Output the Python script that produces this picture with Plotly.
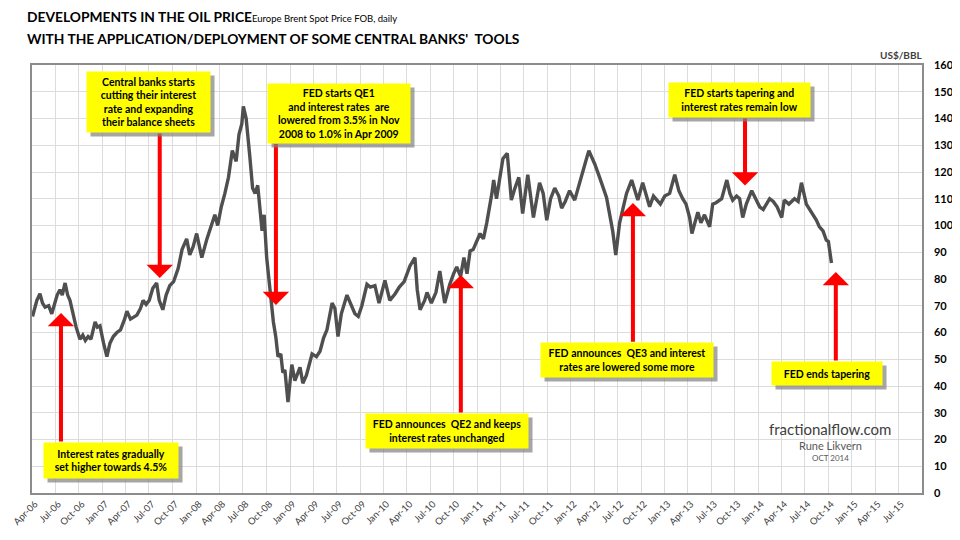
import plotly.graph_objects as go

# Europe Brent spot price FOB (US$/bbl)
dates = [
    '2006-04-03', '2006-04-20', '2006-05-02', '2006-05-12', '2006-05-22', '2006-06-05', '2006-06-17', '2006-06-28',
    '2006-07-08', '2006-07-19', '2006-07-28', '2006-08-08', '2006-08-18', '2006-08-27', '2006-09-08', '2006-09-20',
    '2006-10-05', '2006-10-16', '2006-10-26', '2006-11-06', '2006-11-17', '2006-12-03', '2006-12-12', '2006-12-22',
    '2007-01-05', '2007-01-18', '2007-01-30', '2007-02-12', '2007-02-26', '2007-03-12', '2007-03-28', '2007-04-06',
    '2007-04-20', '2007-05-04', '2007-05-15', '2007-05-29', '2007-06-08', '2007-06-20', '2007-07-02', '2007-07-16',
    '2007-07-31', '2007-08-10', '2007-08-24', '2007-09-06', '2007-09-20', '2007-10-05', '2007-10-23', '2007-11-07',
    '2007-11-25', '2007-12-07', '2007-12-20', '2008-01-03', '2008-01-23', '2008-02-12', '2008-02-28', '2008-03-14',
    '2008-03-25', '2008-04-08', '2008-04-22', '2008-05-06', '2008-05-21', '2008-06-05', '2008-06-16', '2008-06-27',
    '2008-07-03', '2008-07-14', '2008-07-29', '2008-08-08', '2008-08-18', '2008-08-28', '2008-09-14', '2008-09-22',
    '2008-10-02', '2008-10-16', '2008-10-28', '2008-11-07', '2008-11-15', '2008-11-26', '2008-12-04', '2008-12-12',
    '2008-12-24', '2009-01-08', '2009-01-20', '2009-02-09', '2009-02-20', '2009-03-06', '2009-03-28', '2009-04-14',
    '2009-04-28', '2009-05-12', '2009-05-25', '2009-06-14', '2009-06-25', '2009-07-07', '2009-07-20', '2009-08-11',
    '2009-08-25', '2009-09-11', '2009-09-24', '2009-10-08', '2009-10-28', '2009-11-10', '2009-11-28', '2009-12-14',
    '2010-01-06', '2010-01-25', '2010-02-15', '2010-03-03', '2010-03-22', '2010-04-05', '2010-04-14', '2010-05-03',
    '2010-05-12', '2010-05-23', '2010-06-10', '2010-06-19', '2010-07-06', '2010-07-24', '2010-08-08', '2010-08-27',
    '2010-09-16', '2010-10-01', '2010-10-13', '2010-10-28', '2010-11-10', '2010-11-22', '2010-12-04', '2010-12-16',
    '2011-01-12', '2011-01-25', '2011-02-07', '2011-02-27', '2011-03-06', '2011-03-17', '2011-04-11', '2011-04-28',
    '2011-05-14', '2011-05-28', '2011-06-12', '2011-06-27', '2011-07-17', '2011-08-08', '2011-08-20', '2011-09-01',
    '2011-09-15', '2011-09-29', '2011-10-14', '2011-10-30', '2011-11-15', '2011-11-26', '2011-12-10', '2011-12-27',
    '2012-01-16', '2012-02-12', '2012-02-25', '2012-03-11', '2012-04-03', '2012-04-22', '2012-05-08', '2012-05-19',
    '2012-06-12', '2012-06-24', '2012-07-09', '2012-07-20', '2012-08-05', '2012-08-25', '2012-09-05', '2012-09-18',
    '2012-10-07', '2012-10-20', '2012-11-03', '2012-11-18', '2012-11-30', '2012-12-15', '2013-01-01', '2013-01-20',
    '2013-02-09', '2013-02-25', '2013-03-12', '2013-03-25', '2013-04-08', '2013-04-17', '2013-05-10', '2013-05-22',
    '2013-06-05', '2013-06-25', '2013-07-07', '2013-07-20', '2013-08-11', '2013-08-31', '2013-09-12', '2013-09-23',
    '2013-10-08', '2013-10-20', '2013-11-01', '2013-11-15', '2013-12-06', '2013-12-20', '2014-01-06', '2014-01-20',
    '2014-02-14', '2014-02-28', '2014-03-15', '2014-04-02', '2014-04-12', '2014-04-30', '2014-05-22', '2014-06-05',
    '2014-06-18', '2014-07-07', '2014-07-31', '2014-08-15', '2014-08-27', '2014-09-10', '2014-09-23', '2014-10-01',
    '2014-10-13',
]
prices = [
    66, 72, 74.5, 71, 69.5, 70, 67, 71,
    74, 76, 74, 78.5, 74, 72, 67, 62,
    57.5, 59, 57, 58.5, 57.5, 64, 62, 62.5,
    56, 51, 56, 58.5, 60, 61, 65, 68,
    65, 66, 66.5, 69, 72, 70.5, 72, 76.5,
    78.5, 72, 68.5, 74, 77.5, 79, 84, 91,
    95, 89, 92, 97, 88, 95, 100, 104,
    100, 107, 112, 118, 128, 124, 134, 138,
    144.5, 140, 125, 114, 112, 115, 98, 104,
    88, 74, 64, 58, 51, 52, 45, 46,
    34, 48, 42, 47, 41, 44, 52, 51,
    53, 58, 61, 71, 69, 58.5, 67, 74,
    71, 67, 66, 70, 78, 77, 77.5, 71,
    79.5, 72, 74.5, 77, 79, 83, 85, 88,
    76, 68.5, 72, 75, 71, 75, 83, 71,
    78, 82, 84.5, 81, 88, 82, 90.5, 91,
    97, 95, 101, 112, 117, 110, 125, 127,
    109.5, 114, 118, 104.5, 119, 103, 109, 116,
    112, 102, 110, 114, 111, 106.5, 109, 113,
    109.5, 118, 123, 128, 123, 118, 114, 110.5,
    98, 89, 101, 106, 112, 117, 114, 109.5,
    116, 112, 107, 111, 109.5, 108, 111, 112,
    119, 113, 110, 108, 103, 97, 105, 101,
    104, 99.5, 108, 108.5, 110, 117, 112, 109.5,
    111, 110, 103, 108, 113, 110, 107, 106,
    110, 109, 107, 103, 109.5, 108, 110, 109,
    116, 108, 104.5, 102, 99.5, 98, 94.5, 94,
    86,
]

# quarterly x ticks
tick_dates = ['%d-%02d-01' % (y, m) for y in range(2006, 2016) for m in (1, 4, 7, 10)]
tick_dates = [d for d in tick_dates if '2006-04-01' <= d <= '2015-07-01']
month_names = {'01': 'Jan', '04': 'Apr', '07': 'Jul', '10': 'Oct'}
tick_labels = [month_names[d[5:7]] + '-' + d[2:4] for d in tick_dates]

# event boxes: text, box centre (screen px), box size (px)
box_texts = [
    'Central banks starts<br>cutting their interest<br>rate and expanding<br>their balance sheets',
    'FED starts QE1<br>and interest rates  are<br>lowered from 3.5% in Nov<br>2008 to 1.0% in Apr 2009',
    'Interest rates gradually<br>set higher towards 4.5%',
    'FED announces  QE2 and keeps<br>interest rates unchanged',
    'FED starts tapering and<br>interest rates remain low',
    'FED announces  QE3 and interest<br>rates are lowered some more',
    'FED ends tapering',
]
box_centres = [(148, 102), (339, 113), (111, 460), (447, 431), (739, 100), (627, 360), (827, 373)]
box_sizes = [(123, 60), (142, 59), (134, 35), (162, 34), (141, 34), (172, 34), (110, 23)]

# red arrows: head (date, price) and tail price
arrow_dates = ['2006-07-23', '2007-08-12', '2008-11-07', '2010-10-29', '2012-08-30', '2013-11-10', '2014-10-30']
arrow_heads = [67.3, 80.4, 70.3, 81.5, 108.4, 115, 82.6]
arrow_tails = [18.7, 135, 131, 29.5, 56, 140.6, 49]

# plot area in screen pixels; the page body adds an 8px offset
L, T, W, H = 32, 65, 890, 428
OFF = 8
FIG_W, FIG_H = 960 - OFF, 540 - OFF
FONT = 'Lato, Roboto, Liberation Sans'


def px(x):
    return (x - L) / W


def py(y):
    return (T + H - y) / H


def label(x, y, text, size, color, **kw):
    return dict(x=px(x), y=py(y), xref='paper', yref='paper', xanchor='center', yanchor='middle',
                showarrow=False, text=text, font=dict(family=FONT, size=size, color=color), **kw)


fig = go.Figure()
fig.add_trace(go.Scatter(x=dates, y=prices, mode='lines', line=dict(color='#4F4F4F', width=3.4),
                         showlegend=False, hoverinfo='x+y'))

annotations = []
for d, head, tail in zip(arrow_dates, arrow_heads, arrow_tails):
    annotations.append(dict(x=d, y=head, ax=d, ay=tail, xref='x', yref='y', axref='x', ayref='y', text='',
                            showarrow=True, arrowhead=1, arrowsize=1.1, arrowwidth=4, arrowcolor='#FF0000',
                            standoff=0, startstandoff=0))

for text, (cx, cy), (bw, bh) in zip(box_texts, box_centres, box_sizes):
    # shadow first, then the yellow box
    annotations.append(label(cx, cy, '', 10.5, 'black', width=bw, height=bh, bgcolor='rgba(128,128,128,0.7)',
                             borderpad=0, xshift=4, yshift=-4))
    annotations.append(label(cx, cy, '<b>' + text + '</b>', 10.5, 'black', width=bw, height=bh,
                             bgcolor='#FFFF00', borderpad=0, align='center', valign='middle'))

annotations += [
    dict(x=px(25), y=py(16), xref='paper', yref='paper', xanchor='left', yanchor='middle', showarrow=False,
         text='<b>DEVELOPMENTS IN THE OIL PRICE</b><span style="font-size:9.5px">Europe Brent Spot Price FOB, daily</span>',
         font=dict(family=FONT, size=13.8, color='black')),
    dict(x=px(25), y=py(39), xref='paper', yref='paper', xanchor='left', yanchor='middle', showarrow=False,
         text="<b>WITH THE APPLICATION/DEPLOYMENT OF SOME CENTRAL BANKS'  TOOLS</b>",
         font=dict(family=FONT, size=13.8, color='black')),
    label(901, 55, '<b>US$/BBL</b>', 10, '#404040'),
    label(830, 429, 'fractionalflow.com', 15, '#404040'),
    label(830, 445, 'Rune Likvern', 11, '#595959'),
    label(830, 458, 'OCT 2014', 8, '#595959'),
]

fig.update_layout(
    width=FIG_W, height=FIG_H,
    margin=dict(l=L - OFF, r=FIG_W - (L - OFF) - W, t=T - OFF, b=FIG_H - (T - OFF) - H),
    paper_bgcolor='white', plot_bgcolor='white',
    annotations=annotations,
    xaxis=dict(type='date', range=['2006-04-01', '2015-10-01'], tickvals=tick_dates, ticktext=tick_labels,
               tickangle=-45, tickfont=dict(family=FONT, size=9.5, color='#404040'), automargin=False,
               ticklabeloverflow='allow', ticklabelshift=3,
               showgrid=True, gridcolor='#DCDCDC', gridwidth=1, showline=True, linecolor='#8C8C8C',
               linewidth=1.5, mirror=True, ticks='', tickprefix='<b>', ticksuffix='</b>'),
    yaxis=dict(range=[0, 160], dtick=10, side='right', tickfont=dict(family=FONT, size=11, color='black'),
               showgrid=True, gridcolor='#DCDCDC', gridwidth=1, showline=True, linecolor='#8C8C8C',
               linewidth=1.5, mirror=True, ticks='', ticklabelstandoff=8, zeroline=False, automargin=False,
               tickprefix='<b>', ticksuffix='</b>'),
)

fig.write_html('out.html')
